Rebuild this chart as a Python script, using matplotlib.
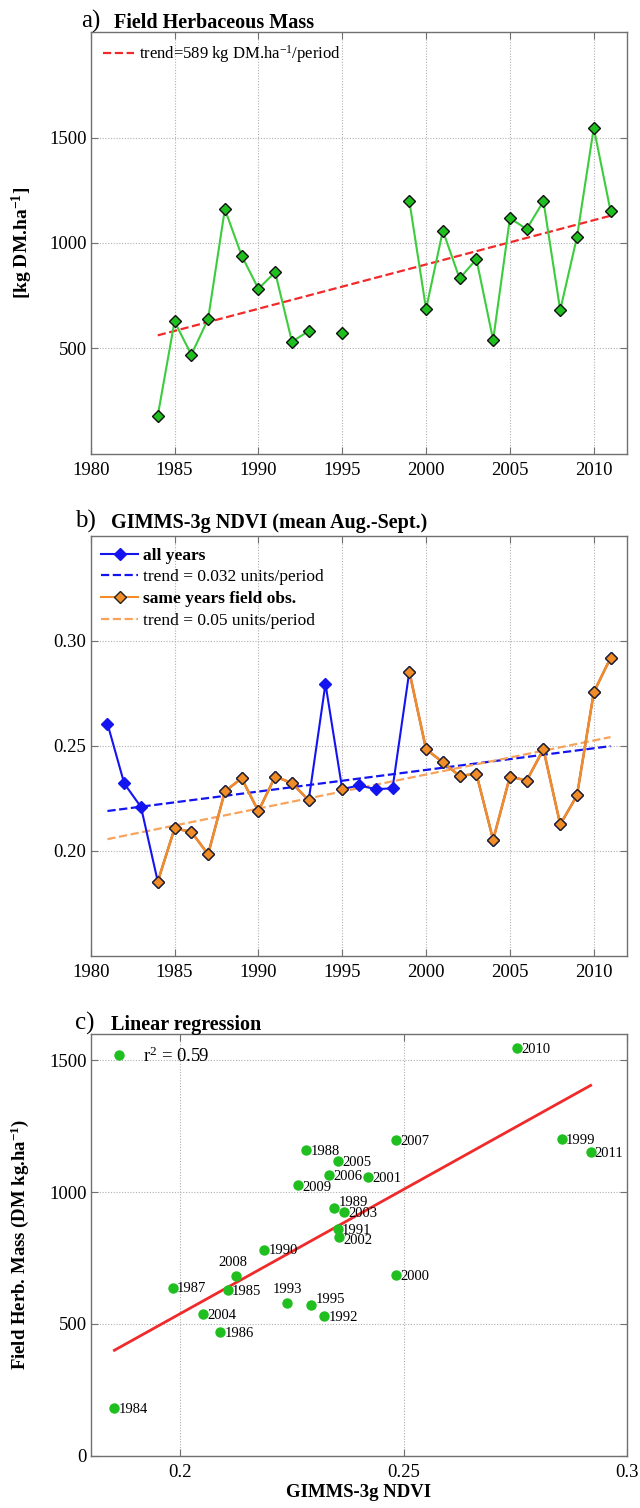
import numpy as np
import matplotlib
matplotlib.use("Agg")
import matplotlib.pyplot as plt
from matplotlib.lines import Line2D

plt.rcParams["font.family"] = ["Liberation Serif", "DejaVu Serif"]
plt.rcParams["mathtext.fontset"] = "custom"
plt.rcParams["mathtext.rm"] = "Liberation Serif"
plt.rcParams["mathtext.it"] = "Liberation Serif"
plt.rcParams["mathtext.bf"] = "Liberation Serif:bold"

# %%
# Data

years = np.arange(1981, 2012)

# field herbaceous mass, kg DM/ha (NaN = no field campaign)
mass = np.array([
    np.nan, np.nan, np.nan, 180, 627, 469, 638, 1160, 940, 782,
    861, 531, 581, np.nan, 570, np.nan, np.nan, np.nan, 1200, 686,
    1058, 831, 923, 539, 1117, 1066, 1198, 681, 1028, 1546, 1152,
])

# GIMMS-3g NDVI, mean Aug.-Sept.
ndvi = np.array([
    0.2605, 0.2320, 0.2208, 0.1853, 0.2106, 0.2090, 0.1983, 0.2282, 0.2345, 0.2188,
    0.2353, 0.2322, 0.2240, 0.2795, 0.2293, 0.2311, 0.2293, 0.2297, 0.2853, 0.2483,
    0.2421, 0.2356, 0.2366, 0.2052, 0.2353, 0.2334, 0.2483, 0.2125, 0.2263, 0.2754,
    0.2918,
])

# trend lines (end points)
trend_mass_years = [1984, 2011]
trend_mass = [561, 1129]
trend_ndvi_years = [1981, 2011]
trend_ndvi_all = [0.2189, 0.2498]
trend_ndvi_field = [0.2055, 0.2541]

# regression line of panel c
reg_ndvi = [0.1853, 0.2918]
reg_mass = [400, 1405]
r2 = 0.59

# %%
# Styling helpers

green_line = "#3ccc3c"
green_mark = "#1fbf1f"
red = "#f02a2a"
blue = "#1414f0"
orange = "#f28c28"
orange_trend = "#f7a35c"
frame = "#707070"
tick_fs = 13.5


def style_axes(ax):
    for sp in ax.spines.values():
        sp.set_color(frame)
        sp.set_linewidth(1.0)
    ax.tick_params(direction="in", top=True, right=True, length=5,
                   color=frame, labelsize=tick_fs, pad=6)
    ax.tick_params(axis="y", pad=3)
    ax.grid(True, linestyle=(0, (1, 1.5)), color="#b0b0b0", linewidth=0.8)
    ax.set_axisbelow(True)


W, H = 640, 1508
fig = plt.figure(figsize=(W / 100, H / 100), dpi=100)


def px_axes(top, bottom, left=90.7, right=627.3):
    return fig.add_axes([left / W, 1 - bottom / H, (right - left) / W, (bottom - top) / H])


def panel_title(letter, title, baseline, x_letter, x_title):
    fig.text(x_letter / W, 1 - baseline / H, letter, fontsize=18, va="baseline")
    fig.text(x_title / W, 1 - baseline / H, title, fontsize=14.5,
             fontweight="bold", va="baseline")


# %%
# a) Field herbaceous mass

ax1 = px_axes(32.3, 453.5)
style_axes(ax1)
ax1.plot(years, mass, "-", color=green_line, lw=1.5, marker="D", ms=6,
         mfc=green_mark, mec="#111111", mew=1.0, zorder=3)
ax1.plot(trend_mass_years, trend_mass, "--", color=red, lw=1.6,
         label="trend=589 kg DM.ha$^{-1}$/period", zorder=2)
ax1.set_xlim(1980, 2012)
ax1.set_ylim(0, 2000)
ax1.set_xticks(np.arange(1980, 2011, 5))
ax1.set_yticks([500, 1000, 1500])
ax1.set_ylabel(r"[kg DM.ha$^{\mathbf{-1}}$]", fontsize=14, fontweight="bold")
ax1.yaxis.set_label_coords(-0.104, 0.5)
ax1.legend(loc="upper left", bbox_to_anchor=(0.022, 0.975), frameon=False,
           fontsize=12, handlelength=1.9, handletextpad=0.3, borderpad=0,
           borderaxespad=0)
panel_title("a)", "Field Herbaceous Mass", 28, 81, 114)

# %%
# b) GIMMS-3g NDVI

field_ndvi = np.where(np.isnan(mass), np.nan, ndvi)

ax2 = px_axes(535.7, 955.7)
style_axes(ax2)
ax2.plot(years, ndvi, "-", color=blue, lw=1.5, marker="D", ms=6,
         mfc=blue, mec=blue, zorder=3)
ax2.plot(trend_ndvi_years, trend_ndvi_all, "--", color=blue, lw=1.6, zorder=2)
ax2.plot(trend_ndvi_years, trend_ndvi_field, "--", color=orange_trend, lw=1.6, zorder=2)
ax2.plot(years, field_ndvi, "-", color=orange, lw=1.9, marker="D", ms=6,
         mfc=orange, mec="#222222", mew=1.0, zorder=4)
ax2.set_xlim(1980, 2012)
ax2.set_ylim(0.15, 0.35)
ax2.set_xticks(np.arange(1980, 2011, 5))
ax2.set_yticks([0.20, 0.25, 0.30])
ax2.set_yticklabels([f"{v:.2f}" for v in [0.20, 0.25, 0.30]])

handles = [
    Line2D([], [], color=blue, lw=1.5, marker="D", ms=6, mfc=blue, mec=blue),
    Line2D([], [], color=blue, lw=1.6, ls="--"),
    Line2D([], [], color=orange, lw=1.5, marker="D", ms=6, mfc=orange, mec="#222222"),
    Line2D([], [], color=orange_trend, lw=1.6, ls="--"),
]
labels = ["all years", "trend = 0.032 units/period",
          "same years field obs.", "trend = 0.05 units/period"]
leg = ax2.legend(handles, labels, loc="upper left", bbox_to_anchor=(0.02, 0.972),
                 frameon=False, fontsize=12.5, handlelength=2.1, handletextpad=0.3,
                 labelspacing=0.32, borderpad=0, borderaxespad=0, numpoints=1)
for i in (0, 2):
    leg.get_texts()[i].set_fontweight("bold")
panel_title("b)", "GIMMS-3g NDVI (mean Aug.-Sept.)", 528, 75.5, 111)

# %%
# c) Linear regression

ok = ~np.isnan(mass)
ax3 = px_axes(1034, 1455.7)
style_axes(ax3)
ax3.tick_params(axis="x", pad=6)
ax3.plot(ndvi[ok], mass[ok], "o", color=green_mark, ms=7.5, mec="none", zorder=3)
ax3.plot(reg_ndvi, reg_mass, "-", color=red, lw=2.0, zorder=2)

# label placement (offset in points, alignment)
place = {
    2008: ((-2, 5), "center", "bottom"),
    1993: ((0, 5), "center", "bottom"),
    1995: ((3, 4), "left", "center"),
    1989: ((3, 4), "left", "center"),
    2002: ((3, -3), "left", "center"),
    2009: ((3, -2), "left", "center"),
}
for yr, xv, yv in zip(years[ok], ndvi[ok], mass[ok]):
    off, ha, va = place.get(yr, ((3, -1), "left", "center"))
    ax3.annotate(str(yr), (xv, yv), xytext=off, textcoords="offset points",
                 ha=ha, va=va, fontsize=10.5, zorder=4)

ax3.set_xlim(0.18, 0.30)
ax3.set_ylim(0, 1600)
ax3.set_xticks([0.2, 0.25, 0.3])
ax3.set_xticklabels(["0.2", "0.25", "0.3"])
ax3.set_yticks([0, 500, 1000, 1500])
ax3.set_xlabel("GIMMS-3g NDVI", fontsize=13.5, fontweight="bold", labelpad=2)
ax3.set_ylabel(r"Field Herb. Mass (DM kg.ha$^{\mathbf{-1}}$)", fontsize=13.5,
               fontweight="bold")
ax3.yaxis.set_label_coords(-0.111, 0.5)
r2_handle = Line2D([], [], ls="none", marker="o", ms=7.5, color=green_mark, mec="none")
ax3.legend([r2_handle], [f"r$^2$ = {r2:.2f}"], loc="upper left",
           bbox_to_anchor=(0.017, 0.97), frameon=False, fontsize=13.5,
           handlelength=2.0, handletextpad=0.3, borderpad=0, borderaxespad=0)
panel_title("c)", "Linear regression", 1030, 75.5, 111)

fig.savefig("out.png", dpi=100)
